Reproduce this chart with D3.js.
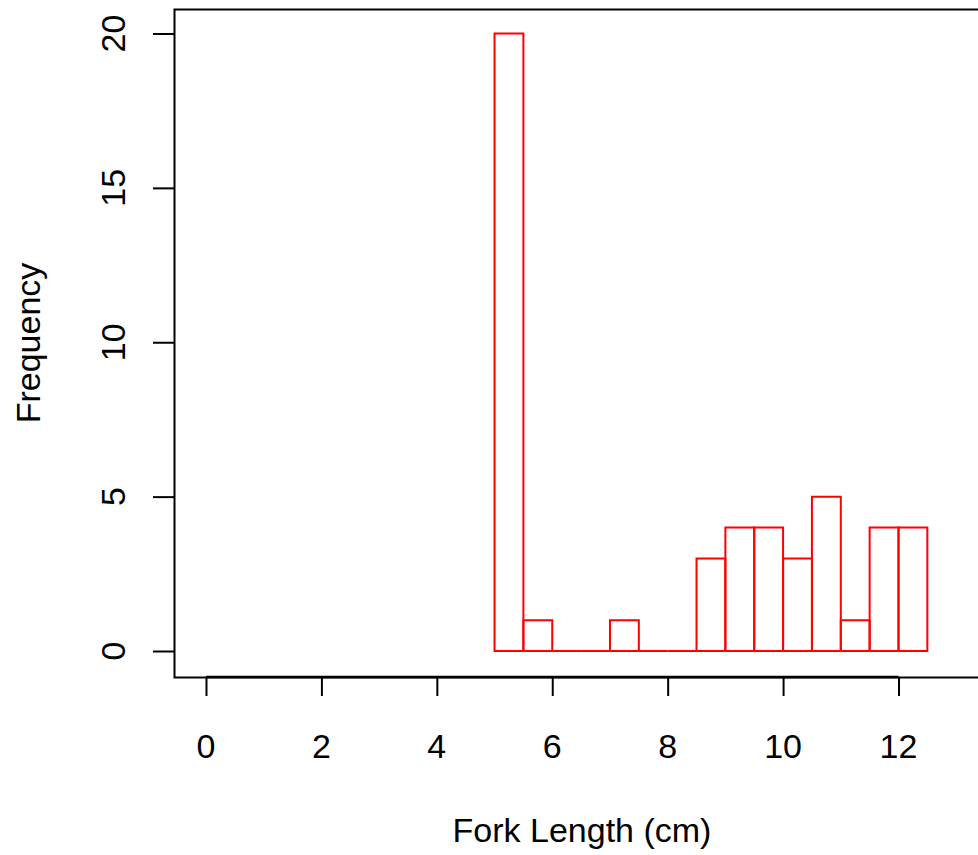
<!DOCTYPE html>
<html lang="en">
<head>
<meta charset="UTF-8">
<title>Fork Length histogram</title>
<style>
    body { margin: 0; background: #fff; }
    svg { display: block; font-family: 'Liberation Sans', Arial, sans-serif; }
</style>
<script src="https://d3js.org/d3.v7.min.js"></script>
</head>
<body>
<div id="chart"></div>
<script>
    var width = 978, height = 855;

    // histogram bins (0.5 cm wide) and counts
    var binStarts = [5, 5.5, 6, 6.5, 7, 7.5, 8, 8.5, 9, 9.5, 10, 10.5, 11, 11.5, 12];
    var binWidth = 0.5;
    var counts = [20, 1, 0, 0, 1, 0, 0, 3, 4, 4, 3, 5, 1, 4, 4];
    var xTicks = [0, 2, 4, 6, 8, 10, 12];
    var yTicks = [0, 5, 10, 15, 20];

    var x = d3.scaleLinear().domain([0, 12]).range([206, 898.5]);
    var y = d3.scaleLinear().domain([0, 20]).range([651, 33.5]);

    var svg = d3.select("#chart").append("svg")
        .attr("width", width)
        .attr("height", height);

    // plot box (runs past the right edge like the original)
    svg.append("path")
        .attr("d", "M 990 9.5 H 174.5 V 677.5 H 990")
        .attr("fill", "none")
        .attr("stroke", "#000")
        .attr("stroke-width", 2);

    // bars as closed paths so empty bins still show a line on the baseline
    svg.selectAll("path.bar")
        .data(binStarts)
        .enter()
        .append("path")
        .attr("class", "bar")
        .attr("d", function(d, i) {
            var x0 = x(d), x1 = x(d + binWidth), y0 = y(0), y1 = y(counts[i]);
            return "M" + x0 + "," + y0 + "V" + y1 + "H" + x1 + "V" + y0 + "Z";
        })
        .attr("fill", "none")
        .attr("stroke", "#ff0000")
        .attr("stroke-width", 2);

    // x axis
    var xAxis = svg.append("g")
        .attr("transform", "translate(0,677)")
        .call(d3.axisBottom(x).tickValues(xTicks).tickSize(19).tickPadding(0).tickFormat(d3.format("d")));
    xAxis.select(".domain").remove();
    xAxis.selectAll(".tick line").attr("stroke", "#000").attr("stroke-width", 2);
    xAxis.selectAll(".tick text").remove();
    xAxis.append("line")
        .attr("x1", x(0)).attr("x2", x(12))
        .attr("stroke", "#000").attr("stroke-width", 2.5);

    svg.selectAll("text.xt")
        .data(xTicks)
        .enter()
        .append("text")
        .attr("class", "xt")
        .attr("x", function(d) { return x(d); })
        .attr("y", 746)
        .attr("dy", "0.35em")
        .attr("text-anchor", "middle")
        .attr("font-size", 34)
        .text(function(d) { return d; });

    // y axis
    var yAxis = svg.append("g")
        .attr("transform", "translate(174,0)")
        .call(d3.axisLeft(y).tickValues(yTicks).tickSize(21).tickFormat(""));
    yAxis.select(".domain").remove();
    yAxis.selectAll(".tick line").attr("stroke", "#000").attr("stroke-width", 2);

    svg.selectAll("text.yt")
        .data(yTicks)
        .enter()
        .append("text")
        .attr("class", "yt")
        .attr("transform", function(d) { return "translate(113," + y(d) + ") rotate(-90)"; })
        .attr("dy", "0.35em")
        .attr("text-anchor", "middle")
        .attr("font-size", 34)
        .text(function(d) { return d; });

    // axis titles
    svg.append("text")
        .attr("x", 582).attr("y", 830)
        .attr("dy", "0.35em")
        .attr("text-anchor", "middle")
        .attr("font-size", 34)
        .text("Fork Length (cm)");

    svg.append("text")
        .attr("transform", "translate(28,343) rotate(-90)")
        .attr("dy", "0.35em")
        .attr("text-anchor", "middle")
        .attr("font-size", 34)
        .text("Frequency");
</script>
</body>
</html>
